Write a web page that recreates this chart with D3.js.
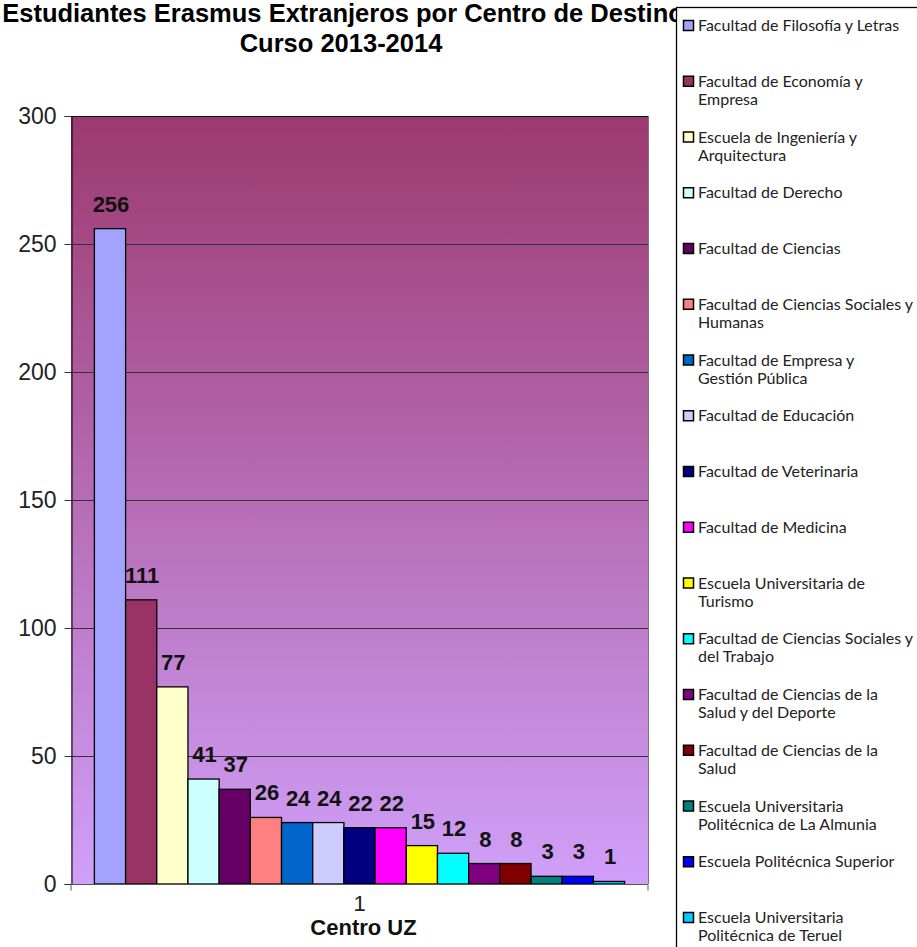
<!DOCTYPE html>
<html>
<head>
<meta charset="utf-8">
<script src="https://cdn.jsdelivr.net/npm/d3@7"></script>
<style>
  body { margin: 0; background: #fff; }
  svg { display: block; }
</style>
</head>
<body>
<svg width="917" height="947"></svg>
<script>

// ------------------------------------------------------
// DATA
// ------------------------------------------------------
var centros = ["Facultad de Filosofía y Letras", "Facultad de Economía y\nEmpresa", "Escuela de Ingeniería y\nArquitectura",
               "Facultad de Derecho", "Facultad de Ciencias", "Facultad de Ciencias Sociales y\nHumanas",
               "Facultad de Empresa y\nGestión Pública", "Facultad de Educación", "Facultad de Veterinaria",
               "Facultad de Medicina", "Escuela Universitaria de\nTurismo", "Facultad de Ciencias Sociales y\ndel Trabajo",
               "Facultad de Ciencias de la\nSalud y del Deporte", "Facultad de Ciencias de la\nSalud",
               "Escuela Universitaria\nPolitécnica de La Almunia", "Escuela Politécnica Superior",
               "Escuela Universitaria\nPolitécnica de Teruel"];
var estudiantes = [256, 111, 77, 41, 37, 26, 24, 24, 22, 22, 15, 12, 8, 8, 3, 3, 1];
var colores = ["#A3A3FF", "#993366", "#FFFFCC", "#CCFFFF", "#660066", "#FF8080", "#0066CC", "#CCCCFF", "#000080",
               "#FF00FF", "#FFFF00", "#00FFFF", "#800080", "#800000", "#008080", "#0000FF", "#00CCFF"];
var yTicks = [0, 50, 100, 150, 200, 250, 300];
var categoria = ["1"];

var svg = d3.select("svg");
var margin = {left: 71, right: 648, top: 116, bottom: 884};

// background gradient of the plot area
var defs = svg.append("defs");
var grad = defs.append("linearGradient")
    .attr("id", "fondo")
    .attr("x1", 0).attr("y1", 0).attr("x2", 0).attr("y2", 1);
grad.append("stop").attr("offset", "0%").attr("stop-color", "#9C396F");
grad.append("stop").attr("offset", "100%").attr("stop-color", "#D0A0FA");

// ------------------------------------------------------
// SCALES
// ------------------------------------------------------
var y = d3.scaleLinear()
    .domain([0, 300])
    .range([margin.bottom, margin.top]);

var x0 = d3.scaleBand()
    .domain(categoria)
    .range([margin.left, margin.right]);

var x1 = d3.scaleBand()
    .domain(d3.range(centros.length))
    .range([x0(categoria[0]), x0(categoria[0]) + x0.bandwidth()])
    .paddingInner(0)
    .paddingOuter(0.75);

// ------------------------------------------------------
// TITLE
// ------------------------------------------------------
var title = svg.append("text")
    .attr("text-anchor", "middle")
    .attr("font-family", "Liberation Sans, Arial, sans-serif")
    .attr("font-weight", "bold")
    .attr("font-size", 25.5)
    .attr("fill", "#000");
title.append("tspan").attr("x", 343).attr("y", 22).text("Estudiantes Erasmus Extranjeros por Centro de Destino");
title.append("tspan").attr("x", 341).attr("y", 52).text("Curso 2013-2014");

// ------------------------------------------------------
// PLOT AREA
// ------------------------------------------------------
var g = svg.append("g");

g.append("rect")
    .attr("x", margin.left)
    .attr("y", margin.top)
    .attr("width", margin.right - margin.left)
    .attr("height", margin.bottom - margin.top)
    .attr("fill", "url(#fondo)");

// gridlines
g.append("g")
    .selectAll("line")
    .data(yTicks.slice(1, -1))
    .enter().append("line")
    .attr("x1", margin.left)
    .attr("x2", margin.right)
    .attr("y1", function(d) { return y(d) + 0.5; })
    .attr("y2", function(d) { return y(d) + 0.5; })
    .attr("stroke", "#333")
    .attr("stroke-width", 1.2);

// top and right border
g.append("line")
    .attr("x1", margin.left).attr("x2", margin.right)
    .attr("y1", margin.top + 0.5).attr("y2", margin.top + 0.5)
    .attr("stroke", "#111");
g.append("line")
    .attr("x1", margin.right + 0.5).attr("x2", margin.right + 0.5)
    .attr("y1", margin.top).attr("y2", margin.bottom)
    .attr("stroke", "#777");

// bars
g.append("g")
    .selectAll("rect")
    .data(estudiantes)
    .enter().append("rect")
    .attr("x", function(d, i) { return x1(i); })
    .attr("y", function(d) { return y(d); })
    .attr("width", x1.bandwidth())
    .attr("height", function(d) { return y(0) - y(d); })
    .attr("fill", function(d, i) { return colores[i]; })
    .attr("stroke", "#000")
    .attr("stroke-width", 1.3);

// value labels
g.append("g")
    .selectAll("text")
    .data(estudiantes)
    .enter().append("text")
    .attr("x", function(d, i) { return x1(i) + x1.bandwidth() / 2 + 1; })
    .attr("y", function(d) { return y(d) - 17; })
    .attr("text-anchor", "middle")
    .attr("font-family", "Liberation Sans, Arial, sans-serif")
    .attr("font-weight", "bold")
    .attr("font-size", 22)
    .attr("fill", "#111")
    .text(function(d) { return d; });

// ------------------------------------------------------
// AXES
// ------------------------------------------------------
var yAxis = g.append("g")
    .attr("transform", "translate(" + (margin.left + 0.5) + ",0)")
    .call(d3.axisLeft(y).tickValues(yTicks).tickSize(7).tickPadding(8));
yAxis.select(".domain").attr("stroke", "#000");
yAxis.selectAll(".tick line").attr("stroke", "#333");
yAxis.selectAll("text")
    .attr("font-family", "Liberation Sans, Arial, sans-serif")
    .attr("font-size", 23)
    .attr("fill", "#222");

var xAxis = g.append("g")
    .attr("transform", "translate(0," + (margin.bottom + 0.5) + ")")
    .call(d3.axisBottom(x0).tickSize(0).tickPadding(11));
xAxis.select(".domain").attr("stroke", "#555").attr("d", "M" + margin.left + ",6V0H" + margin.right + "V6");
xAxis.selectAll("text")
    .attr("font-family", "Liberation Sans, Arial, sans-serif")
    .attr("font-size", 22)
    .attr("fill", "#222");

svg.append("text")
    .attr("x", (margin.left + margin.right) / 2 + 4)
    .attr("y", 935)
    .attr("text-anchor", "middle")
    .attr("font-family", "Liberation Sans, Arial, sans-serif")
    .attr("font-weight", "bold")
    .attr("font-size", 22)
    .attr("fill", "#111")
    .text("Centro UZ");

// ------------------------------------------------------
// LEGEND
// ------------------------------------------------------
svg.append("rect")
    .attr("x", 676.5)
    .attr("y", 7.5)
    .attr("width", 260)
    .attr("height", 960)
    .attr("fill", "#fff")
    .attr("stroke", "#000")
    .attr("stroke-width", 1.3);

var ly = d3.scalePoint()
    .domain(d3.range(centros.length))
    .range([25, 917]);

var legend = svg.append("g")
    .attr("font-family", "Lato, sans-serif")
    .attr("font-size", 16)
    .attr("fill", "#222")
    .selectAll("g")
    .data(centros)
    .enter().append("g")
    .attr("transform", function(d, i) { return "translate(683," + ly(i) + ")"; });

legend.append("rect")
    .attr("x", 0.5)
    .attr("y", -4.5)
    .attr("width", 10)
    .attr("height", 10)
    .attr("fill", function(d, i) { return colores[i]; })
    .attr("stroke", "#000")
    .attr("stroke-width", 1.5);

legend.append("text")
    .attr("y", 6)
    .each(function(d) {
        var t = d3.select(this);
        d.split("\n").forEach(function(line, k) {
            t.append("tspan").attr("x", 15).attr("dy", k === 0 ? 0 : 18).text(line);
        });
    });

</script>
</body>
</html>
